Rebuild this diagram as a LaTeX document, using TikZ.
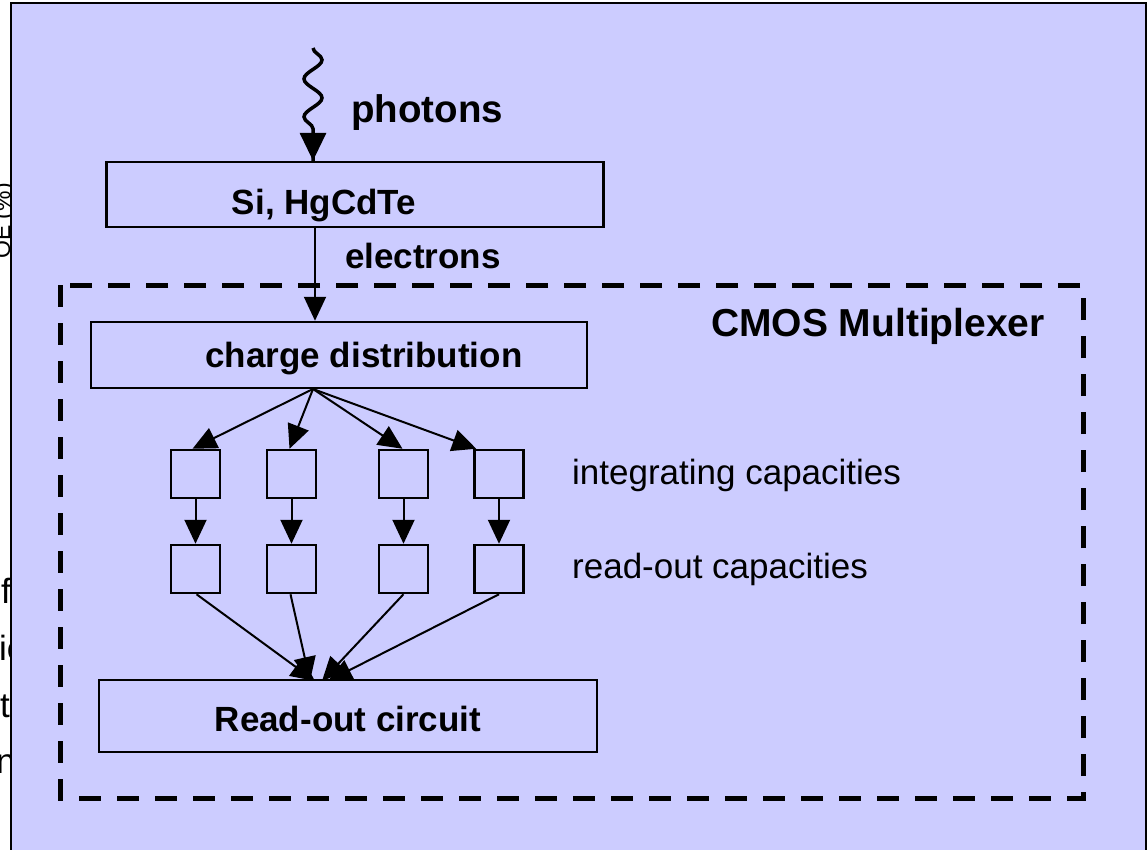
\documentclass[tikz,border=0pt]{standalone}
\usepackage{fontspec}
\setmainfont{Liberation Sans}
\usetikzlibrary{arrows.meta,decorations.pathmorphing,calc}
\definecolor{bgblue}{HTML}{CCCCFF}
\begin{document}
\begin{tikzpicture}[x=1pt,y=-1pt,
  box/.style={draw=black,line width=2.5pt,inner sep=0pt},
  sq/.style={box,minimum width=49pt,minimum height=48pt},
  arr/.style={line width=2pt,-{Triangle[length=24pt,width=22pt]}},
  btxt/.style={font=\bfseries\fontsize{35}{40}\selectfont,anchor=base,inner sep=0pt},
  rtxt/.style={font=\fontsize{35}{40}\selectfont,anchor=base west,inner sep=0pt},
  frag/.style={font=\fontsize{35}{40}\selectfont,anchor=base west,inner sep=0pt}]
\useasboundingbox (0,0) rectangle (1148,849);
% clipped fragments on the left
\node[frag] (f1) at (1,603) {f};
\node[frag] (f2) at (-1,660) {ic};
\node[frag] (f3) at (0,717) {t};
\node[frag] (f4) at (-4,773) {n};
\node[font=\fontsize{23}{25}\selectfont,rotate=90,anchor=base,inner sep=0pt] (qe) at (10,221) {QE (\%)};
% background panel
\filldraw[fill=bgblue,draw=black,line width=2.5pt] (11,3) rectangle (1146,860);
% dashed CMOS frame
\draw[line width=5pt,dash pattern=on 22pt off 16pt] (60,285) rectangle (1083,798);
\node[btxt,font=\bfseries\fontsize{39}{43}\selectfont] (cmos) at (878,336) {CMOS Multiplexer};
% boxes
\node[box,minimum width=497pt,minimum height=65pt] (si) at (355,194.5) {};
\node[btxt] (sit) at (324,214) {Si, HgCdTe};
\node[box,minimum width=496pt,minimum height=66pt] (cd) at (339,355) {};
\node[btxt] (cdt) at (364,367) {charge distribution};
\node[box,minimum width=498pt,minimum height=72pt] (roc) at (348,716) {};
\node[btxt] (roct) at (348,731) {Read-out circuit};
% photons
\coordinate (ph) at (313,48);
\draw[line width=3.5pt,decorate,decoration={snake,amplitude=9pt,segment length=38pt,post length=26pt}] (ph) -- (si.north -| ph);
\draw[-{Triangle[length=28pt,width=26pt]},line width=3.5pt] ($(si.north -| ph)+(0,-28)$) -- (si.north -| ph);
\node[btxt,font=\bfseries\fontsize{38.5}{42}\selectfont] (pht) at (427,122) {photons};
% electrons
\coordinate (ex) at (315,389);
\draw[arr] (si.south -| ex) -- (cd.north -| ex);
\node[btxt] (elt) at (423,268) {electrons};
% capacities
\foreach \n/\x in {1/195.5,2/291.5,3/403.5,4/499}{
  \node[sq] (i\n) at (\x,474) {};
  \node[sq] (r\n) at (\x,569) {};
  \draw[arr] (i\n.south) -- (r\n.north);
}
\node[rtxt] (ict) at (572,484) {integrating capacities};
\node[rtxt] (rct) at (572,578) {read-out capacities};
% fan out
\coordinate (fan) at (313,389);
\draw[arr] (fan) -- ($(i1.north)+(-3,0)$);
\draw[arr] (fan) -- ($(i2.north)+(-2,0)$);
\draw[arr] (fan) -- ($(i3.north)+(-1,0)$);
\draw[arr] (fan) -- ($(i4.north west)+(3,0)$);
% fan in
\coordinate (t1) at (315,681);
\coordinate (t2) at (310,681);
\coordinate (t3) at (322,681);
\coordinate (t4) at (328,681);
\draw[arr] ($(r1.south)+(1,0)$) -- (t1);
\draw[arr] ($(r2.south)+(-1,0)$) -- (t2);
\draw[arr] ($(r3.south)+(0,0)$) -- (t3);
\draw[arr] ($(r4.south)+(0,0)$) -- (t4);
\end{tikzpicture}
\end{document}
